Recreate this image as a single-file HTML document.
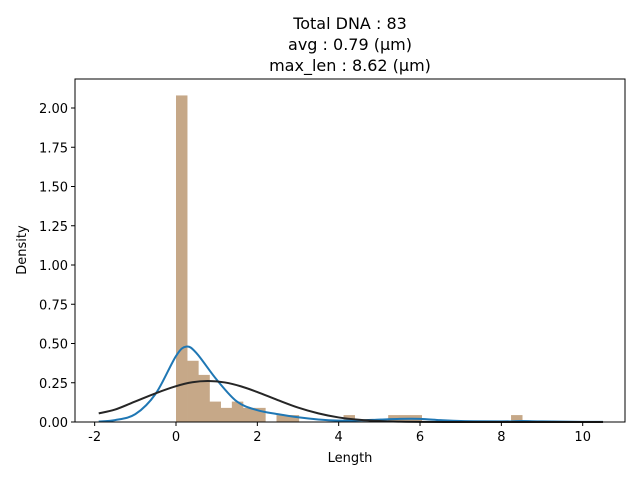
<!DOCTYPE html>
<html><head><meta charset="utf-8"><style>
body{margin:0;background:#fff;font-family:"Liberation Sans","DejaVu Sans",sans-serif}
text{font-family:"DejaVu Sans","Liberation Sans",sans-serif}
</style></head><body>
<svg id="c" width="640" height="480"></svg>
<script>
const binStart=0, binWidth=0.2746;
const barHeights=[2.08,0.39,0.30,0.13,0.09,0.13,0.09,0.09,0,0.044,0.044,0,0,0,0,0.044,0,0,0,0.044,0.044,0.044,0,0,0,0,0,0,0,0,0.044];
const kdeX=[-1.9,-1.5,-1,-0.5,0,0.25,0.5,1,1.5,2,2.5,3,3.5,4,4.5,5,5.5,6,6.5,7,8,8.5,9,10,10.5];
const kdeY=[0.003,0.012,0.05,0.18,0.42,0.48,0.44,0.27,0.13,0.075,0.05,0.03,0.016,0.009,0.01,0.015,0.02,0.02,0.012,0.006,0.004,0.006,0.004,0.001,0.0005];
const normX=[-1.9,-1.5,-1,-0.5,0,0.4,0.79,1.2,1.6,2,2.5,3,3.5,4,4.5,5,5.5,6,7,8,9,10,10.5];
const normY=[0.055,0.079,0.131,0.183,0.228,0.253,0.261,0.252,0.227,0.191,0.140,0.092,0.055,0.029,0.014,0.006,0.0025,0.001,0.0001,0,0,0,0];
const xTicks=[-2,0,2,4,6,8,10];
const yTicks=[0,0.25,0.5,0.75,1,1.25,1.5,1.75,2];
const yLabels=["0.00","0.25","0.50","0.75","1.00","1.25","1.50","1.75","2.00"];
const titleLines=["Total DNA : 83","avg : 0.79 (µm)","max_len : 8.62 (µm)"];

const L=75,R=625,T=79,B=422;
const X=v=>176+v*40.67;
const Y=v=>B-v*157;
const svg=document.getElementById('c');
const NS="http://www.w3.org/2000/svg";
function mk(tag,attrs,parent){const e=document.createElementNS(NS,tag);for(const k in attrs)e.setAttribute(k,attrs[k]);(parent||svg).appendChild(e);return e;}

barHeights.forEach((h,i)=>{
  if(h<=0)return;
  const x0=X(binStart+i*binWidth),x1=X(binStart+(i+1)*binWidth);
  const r=mk('rect',{x:x0,y:Y(h),width:x1-x0+0.3,height:B-Y(h),fill:'#c6a888'});
  
  
});
function smooth(xs,ys){
  const p=xs.map((x,i)=>[X(x),Y(ys[i])]);
  let d=`M${p[0][0]},${p[0][1]}`;
  for(let i=0;i<p.length-1;i++){
    const p0=p[Math.max(0,i-1)],p1=p[i],p2=p[i+1],p3=p[Math.min(p.length-1,i+2)];
    const c1=[p1[0]+(p2[0]-p0[0])/6,p1[1]+(p2[1]-p0[1])/6];
    const c2=[p2[0]-(p3[0]-p1[0])/6,p2[1]-(p3[1]-p1[1])/6];
    d+=`C${c1[0]},${Math.min(B,c1[1])} ${c2[0]},${Math.min(B,c2[1])} ${p2[0]},${p2[1]}`;
  }
  return d;
}
const kde=mk('path',{d:smooth(kdeX,kdeY),fill:'none',stroke:'#1f77b4','stroke-width':2});


const nrm=mk('path',{d:smooth(normX,normY),fill:'none',stroke:'#262626','stroke-width':2});



const frame=mk('rect',{x:L,y:T,width:R-L,height:B-T,fill:'none',stroke:'#000','stroke-width':1});



xTicks.forEach(v=>{
  mk('line',{x1:X(v),x2:X(v),y1:B,y2:B+4,stroke:'#000'});
  const t=mk('text',{x:X(v),y:B+19,'font-size':13,'text-anchor':'middle'});t.textContent=v;
  
  
});
yTicks.forEach((v,i)=>{
  mk('line',{x1:L-4,x2:L,y1:Y(v),y2:Y(v),stroke:'#000'});
  const t=mk('text',{x:L-7,y:Y(v)+5,'font-size':13,'text-anchor':'end'});t.textContent=yLabels[i];
  
  
});
const xl=mk('text',{x:350,y:462,'font-size':13,'text-anchor':'middle'});xl.textContent='Length';


const yl=mk('text',{x:26,y:250,'font-size':13,'text-anchor':'middle',transform:'rotate(-90 26 250)'});yl.textContent='Density';


titleLines.forEach((s,i)=>{
  const t=mk('text',{x:350,y:29+i*21,'font-size':16,'text-anchor':'middle'});t.textContent=s;
  
  
});
</script>
</body></html>
